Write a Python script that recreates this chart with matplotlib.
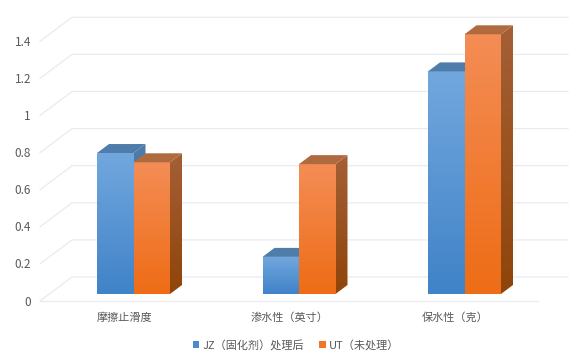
import numpy as np
import matplotlib
matplotlib.use('Agg')
import matplotlib.pyplot as plt
from matplotlib.colors import LinearSegmentedColormap
from matplotlib.patches import Patch, Polygon

plt.rcParams['font.family'] = ['Noto Sans CJK SC', 'DejaVu Sans']

# Data
categories = ['摩擦止滑度', '渗水性（英寸）', '保水性（克）']
jz_values = [0.76, 0.20, 1.20]
ut_values = [0.71, 0.70, 1.40]
y_ticks = [0, 0.2, 0.4, 0.6, 0.8, 1, 1.2, 1.4]
series_names = ['JZ（固化剂）处理后', 'UT（未处理）']

# Layout of the fake 3D box, in data units
W, H = 586, 361
X_SCALE = 165.5
Y_SCALE = 185.5
bar_w = 36.5 / X_SCALE
dx = 12 / X_SCALE
dy = 9 / Y_SCALE
wall_dx = 32 / X_SCALE
wall_dy = 24 / Y_SCALE
front_y = -7 / Y_SCALE
left_x = -93.5 / X_SCALE
right_x = 404.5 / X_SCALE
back_right_x = 434.5 / X_SCALE
TEXT = '#595959'
GRID = '#ebebef'

fig = plt.figure(figsize=(W / 100, H / 100), dpi=100)
ax = fig.add_axes([0, 0, 1, 1])
ax.set_xlim(-133.5 / X_SCALE, (W - 133.5) / X_SCALE)
ax.set_ylim(-(H - 294) / Y_SCALE, 294 / Y_SCALE)
ax.set_axis_off()


def gradient(points, top, bottom, z):
    """Fill a polygon with a vertical colour gradient"""
    pts = np.array(points)
    cmap = LinearSegmentedColormap.from_list('g', [bottom, top])
    im = ax.imshow(np.linspace(1, 0, 64).reshape(-1, 1), cmap=cmap, aspect='auto', zorder=z,
                   extent=(pts[:, 0].min(), pts[:, 0].max(), pts[:, 1].min(), pts[:, 1].max()))
    im.set_clip_path(Polygon(points, closed=True, transform=ax.transData))


def bar3d(x, v, front, side, roof, z):
    gradient([(x, 0), (x + bar_w, 0), (x + bar_w, v), (x, v)], front[0], front[1], z)
    gradient([(x + bar_w, 0), (x + bar_w + dx, dy), (x + bar_w + dx, v + dy), (x + bar_w, v)],
             side[0], side[1], z)
    ax.add_patch(Polygon([(x, v), (x + bar_w, v), (x + bar_w + dx, v + dy), (x + dx, v + dy)],
                         closed=True, facecolor=roof, edgecolor='none', zorder=z))


# Walls and gridlines
for t in y_ticks:
    back = t + front_y + wall_dy
    ax.plot([left_x, left_x + wall_dx, back_right_x],
            [t + front_y, back, back], color=GRID, lw=0.9, zorder=1)
    ax.text(-102.5 / X_SCALE, t + front_y - 1 / Y_SCALE, f'{t:g}', ha='right', va='center',
            fontsize=8.5, color=TEXT)
ax.plot([left_x, right_x], [front_y, front_y], color=GRID, lw=0.9, zorder=1)

# Bars
for i in range(len(categories)):
    bar3d(i - bar_w, jz_values[i], ('#72a7de', '#4083c8'), ('#4f7cab', '#3a6a9c'), '#4f7dab', 3 + i)
    bar3d(i, ut_values[i], ('#f48d55', '#ee6c16'), ('#a55f36', '#8f4509'), '#b06a40', 3.5 + i)
    ax.text(i - 9.5 / X_SCALE, -24 / Y_SCALE, categories[i], ha='center', va='center',
            fontsize=8, color=TEXT)

handles = [Patch(facecolor='#4a8bcb', label=series_names[0]),
           Patch(facecolor='#f0762a', label=series_names[1])]
ax.legend(handles=handles, loc='center', bbox_to_anchor=(296 / W, 1 - 345 / H), ncol=2, frameon=False,
          fontsize=8, labelcolor=TEXT, handlelength=0.6, handleheight=0.6, handletextpad=0.3,
          columnspacing=1.3)

fig.savefig('out.png', dpi=100)
